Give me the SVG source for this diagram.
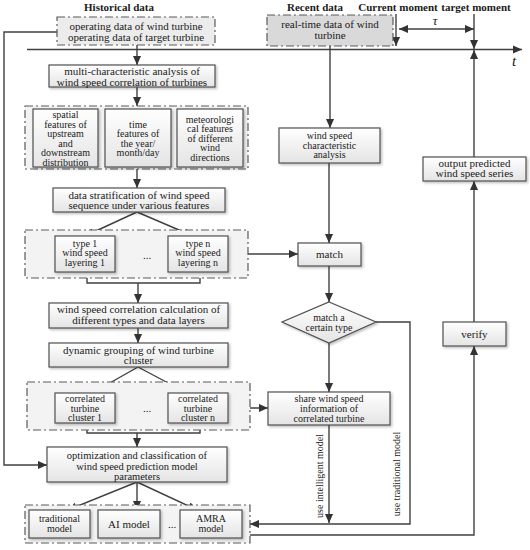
<svg xmlns="http://www.w3.org/2000/svg" width="530" height="550" viewBox="0 0 530 550" font-family="'Liberation Serif', 'Times New Roman', serif">
<defs>
<linearGradient id="bg" x1="0" y1="0" x2="0" y2="1"><stop offset="0" stop-color="#ffffff"/><stop offset="1" stop-color="#e4e4e4"/></linearGradient>
<filter id="sh" x="-10%" y="-10%" width="130%" height="140%"><feDropShadow dx="1.5" dy="1.5" stdDeviation="1" flood-color="#000" flood-opacity="0.25"/></filter>
<marker id="ah" viewBox="0 0 10 10" refX="10" refY="5" markerWidth="9" markerHeight="9" markerUnits="userSpaceOnUse" orient="auto-start-reverse"><path d="M0,0.5 L10,5 L0,9.5 z" fill="#333"/></marker>
<style>
text{font-family:'Liberation Serif','Times New Roman',serif;font-size:10px;fill:#1a1a1a;text-anchor:middle}
.b{font-weight:bold;font-size:11px}
.box{fill:url(#bg);stroke:#505050;stroke-width:1.2;filter:url(#sh)}
.grp{fill:#f3f3f3;stroke:#5a5a5a;stroke-width:1.2;stroke-dasharray:8 3 2 3}
.ln{fill:none;stroke:#404040;stroke-width:1.4}
.ar{fill:none;stroke:#404040;stroke-width:1.4;marker-end:url(#ah)}
.it{font-style:italic}
.m{font-size:11px}
.o{font-size:10.5px}
</style>
</defs>
<rect width="530" height="550" fill="#ffffff"/>

<g id="headers">
<text class="b" x="119" y="11">Historical data</text>
<text class="b" x="315" y="11">Recent data</text>
<text class="b" x="398" y="11">Current moment</text>
<text class="b" x="476" y="11">target moment</text>
</g>

<g id="connectors">
<line class="ar" x1="27" y1="49.5" x2="522" y2="49.5"/>
<line class="ar" x1="396" y1="14" x2="396" y2="46"/>
<line class="ar" x1="474" y1="14" x2="474" y2="49"/>
<line class="ar" x1="399" y1="29" x2="474" y2="29" style="marker-start:url(#ah)"/>
<polyline class="ar" points="57,32 4,32 4,465 47,465"/>
<line class="ar" x1="137" y1="45" x2="137" y2="65"/>
<line class="ar" x1="137" y1="87" x2="137" y2="106"/>
<line class="ar" x1="137" y1="169" x2="137" y2="188"/>
<line class="ar" x1="137" y1="212" x2="85" y2="236"/>
<line class="ar" x1="137" y1="212" x2="193" y2="236"/>
<polyline class="ln" points="87,272 87,283 200,283 200,272"/>
<line class="ar" x1="138" y1="283" x2="138" y2="303"/>
<line class="ar" x1="248" y1="254" x2="298" y2="254"/>
<line class="ar" x1="138" y1="328" x2="138" y2="343"/>
<line class="ar" x1="138" y1="367" x2="92" y2="393"/>
<line class="ar" x1="138" y1="367" x2="187" y2="393"/>
<line class="ar" x1="228" y1="408" x2="268" y2="408"/>
<polyline class="ln" points="87,423 87,433 200,433 200,423"/>
<line class="ar" x1="137" y1="433" x2="137" y2="447"/>
<line class="ar" x1="137" y1="482" x2="68" y2="510"/>
<line class="ar" x1="137" y1="482" x2="137" y2="510"/>
<line class="ar" x1="137" y1="482" x2="197" y2="510"/>
<line class="ar" x1="330" y1="46" x2="330" y2="128"/>
<line class="ar" x1="329" y1="163" x2="329" y2="243"/>
<line class="ar" x1="329" y1="266" x2="329" y2="302"/>
<line class="ar" x1="329" y1="343" x2="329" y2="392"/>
<line class="ar" x1="329" y1="425" x2="329" y2="523"/>
<polyline class="ar" points="376,322 410,322 410,524 250,524"/>
<polyline class="ar" points="250,535 474,535 474,346"/>
<line class="ar" x1="474" y1="322" x2="474" y2="181"/>
<line class="ar" x1="474" y1="157" x2="474" y2="50"/>
<text class="it" x="435" y="25" style="font-size:13px">τ</text>
<text class="it" x="514" y="66" style="font-size:15px">t</text>
<text x="0" y="0" transform="translate(323,476) rotate(-90)">use intelligent model</text>
<text x="0" y="0" transform="translate(400,474) rotate(-90)">use traditional model</text>
</g>

<g id="historical-data">
<rect class="grp" x="57" y="17" width="158" height="28" style="fill:#ececec"/>
<text class="m" x="136" y="30">operating data of wind turbine</text>
<text class="m" x="136" y="41">operating data of target turbine</text>
</g>

<g id="realtime-data">
<rect class="grp" x="267" y="15" width="126" height="31" style="fill:#d9d9d9"/>
<text class="m" x="330" y="28">real-time data of wind</text>
<text class="m" x="330" y="39">turbine</text>
</g>

<g id="multi-analysis">
<rect class="box" x="49" y="65" width="166" height="22"/>
<text class="m" x="132" y="75">multi-characteristic analysis of</text>
<text class="m" x="132" y="85.5">wind speed correlation of turbines</text>
</g>

<g id="features-group">
<rect class="grp" x="25" y="106" width="223" height="63"/>
</g>
<g id="feature-spatial">
<rect class="box" x="33" y="109" width="65" height="58"/>
<text x="65.5" y="118">spatial</text>
<text x="65.5" y="127.5">features of</text>
<text x="65.5" y="137">upstream</text>
<text x="65.5" y="146.5">and</text>
<text x="65.5" y="156">downstream</text>
<text x="65.5" y="165.5">distribution</text>
</g>
<g id="feature-time">
<rect class="box" x="105" y="109" width="66" height="58"/>
<text x="138" y="127.5">time</text>
<text x="138" y="137">features of</text>
<text x="138" y="146.5">the year/</text>
<text x="138" y="156">month/day</text>
</g>
<g id="feature-meteo">
<rect class="box" x="177" y="109" width="66" height="58"/>
<text x="210" y="122.5">meteorologi</text>
<text x="210" y="132">cal features</text>
<text x="210" y="141.5">of different</text>
<text x="210" y="151">wind</text>
<text x="210" y="160.5">directions</text>
</g>

<g id="stratification">
<rect class="box" x="53" y="188" width="172" height="24"/>
<text class="m" x="139" y="198.5">data stratification of wind speed</text>
<text class="m" x="139" y="209">sequence under various  features</text>
</g>

<g id="types-group">
<rect class="grp" x="25" y="230" width="223" height="48"/>
<text class="m" x="147" y="259">...</text>
</g>
<g id="type-1">
<rect class="box" x="55" y="236" width="60" height="36"/>
<text x="85" y="246.5">type 1</text>
<text x="85" y="256">wind speed</text>
<text x="85" y="265.5">layering 1</text>
</g>
<g id="type-n">
<rect class="box" x="168" y="236" width="60" height="36"/>
<text x="198" y="246.5">type n</text>
<text x="198" y="256">wind speed</text>
<text x="198" y="265.5">layering n</text>
</g>

<g id="correlation-calc">
<rect class="box" x="49" y="303" width="179" height="25"/>
<text class="m" x="138.5" y="313">wind speed correlation calculation of</text>
<text class="m" x="138.5" y="323.5">different types and data layers</text>
</g>

<g id="dynamic-grouping">
<rect class="box" x="49" y="343" width="179" height="24"/>
<text class="m" x="138.5" y="353.5">dynamic grouping of wind turbine</text>
<text class="m" x="138.5" y="364">cluster</text>
</g>

<g id="clusters-group">
<rect class="grp" x="27" y="382" width="223" height="48"/>
<text class="m" x="147" y="412">...</text>
</g>
<g id="cluster-1">
<rect class="box" x="55" y="393" width="60" height="30"/>
<text x="85" y="402">correlated</text>
<text x="85" y="411.5">turbine</text>
<text x="85" y="421">cluster 1</text>
</g>
<g id="cluster-n">
<rect class="box" x="168" y="393" width="60" height="30"/>
<text x="198" y="402">correlated</text>
<text x="198" y="411.5">turbine</text>
<text x="198" y="421">cluster n</text>
</g>

<g id="optimization">
<rect class="box" x="47" y="447" width="180" height="35"/>
<text class="o" x="137" y="459">optimization and classification of</text>
<text class="o" x="137" y="469.5">wind speed prediction model</text>
<text class="o" x="137" y="480">parameters</text>
</g>

<g id="models-group">
<rect class="grp" x="25" y="505" width="225" height="38"/>
<text class="m" x="172" y="528">...</text>
</g>
<g id="model-traditional">
<rect class="box" x="29" y="510" width="61" height="28"/>
<text x="59.5" y="522">traditional</text>
<text x="59.5" y="532">model</text>
</g>
<g id="model-ai">
<rect class="box" x="98" y="510" width="62" height="28"/>
<text class="m" x="129" y="527.5">AI model</text>
</g>
<g id="model-amra">
<rect class="box" x="180" y="510" width="62" height="28"/>
<text x="211" y="522">AMRA</text>
<text x="211" y="532">model</text>
</g>

<g id="ws-characteristic">
<rect class="box" x="279" y="128" width="101" height="35"/>
<text x="329.5" y="139">wind speed</text>
<text x="329.5" y="148.5">characteristic</text>
<text x="329.5" y="158">analysis</text>
</g>

<g id="match">
<rect class="box" x="298" y="243" width="63" height="23"/>
<text class="m" x="329.5" y="258">match</text>
</g>

<g id="match-type">
<polygon class="box" points="329,302 376,322 329,343 282,322"/>
<text x="329" y="320.5">match a</text>
<text x="329" y="330.5">certain type</text>
</g>

<g id="share-info">
<rect class="box" x="268" y="392" width="122" height="33"/>
<text x="329" y="401.5">share wind speed</text>
<text x="329" y="411.5">information of</text>
<text x="329" y="421.5">correlated turbine</text>
</g>

<g id="verify">
<rect class="box" x="443" y="322" width="63" height="24"/>
<text class="m" x="474.5" y="337.5">verify</text>
</g>

<g id="output">
<rect class="box" x="423" y="157" width="103" height="24"/>
<text class="m" x="474.5" y="166.5">output predicted</text>
<text class="m" x="474.5" y="177">wind speed series</text>
</g>
</svg>
